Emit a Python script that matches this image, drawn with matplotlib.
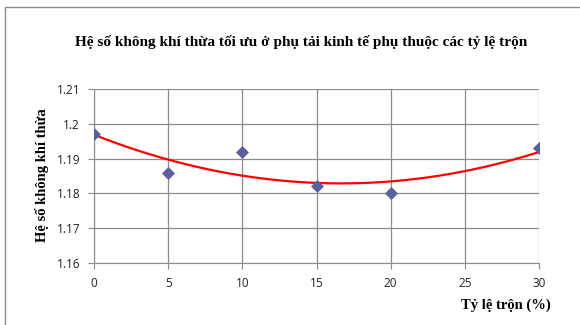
import numpy as np
import matplotlib
matplotlib.use("Agg")
import matplotlib.pyplot as plt
from matplotlib.patches import Rectangle

ratio = [0, 5, 10, 15, 20, 30]
excess_air = [1.197, 1.186, 1.192, 1.182, 1.180, 1.193]
x_ticks = [0, 5, 10, 15, 20, 25, 30]
y_ticks = [1.16, 1.17, 1.18, 1.19, 1.2, 1.21]
y_tick_labels = ["1.16", "1.17", "1.18", "1.19", "1.2", "1.21"]

W, H = 580, 325
fig = plt.figure(figsize=(W/100, H/100), dpi=100)
fig.patch.set_facecolor("white")
fig.patches.append(Rectangle((5/W, -0.1), 1.2, 1 - 7/H + 0.1, transform=fig.transFigure,
                             fill=False, edgecolor="#8c8c8c", linewidth=1.0))

left, right, top, bottom = 94, 539, 89, 263
ax = fig.add_axes([left/W, 1 - bottom/H, (right-left)/W, (bottom-top)/H])

coef = np.polyfit(ratio, excess_air, 2)
xs = np.linspace(0, 30, 200)
ax.plot(xs, np.polyval(coef, xs), color="#ff0000", linewidth=1.6, zorder=3)
ax.scatter(ratio, excess_air, marker="D", s=44, color="#5b5f9e", zorder=4, linewidths=0)

ax.set_xlim(0, 30)
ax.set_ylim(1.16, 1.21)
ax.set_xticks(x_ticks)
ax.set_yticks(y_ticks)
ax.set_yticklabels(y_tick_labels)
ax.grid(True, color="#8c8c8c", linewidth=0.9)
ax.set_axisbelow(True)
for s in ["top", "right"]:
    ax.spines[s].set_visible(False)
for s in ["left", "bottom"]:
    ax.spines[s].set_color("#8c8c8c")
ax.tick_params(direction="out", length=4, color="#8c8c8c", labelsize=8.5,
               labelcolor="#222222", pad=6)
for lab in ax.get_xticklabels() + ax.get_yticklabels():
    lab.set_family("Open Sans")

fig.text(301/W, 1 - 42/H, "Hệ số không khí thừa tối ưu ở phụ tải kinh tế phụ thuộc các tỷ lệ trộn",
         ha="center", va="center", family="Liberation Serif", fontweight="bold", fontsize=11)
fig.text(42/W, 1 - 175/H, "Hệ số không khí thừa", rotation=90, ha="center", va="center",
         family="Liberation Serif", fontweight="bold", fontsize=10.5)
fig.text(506/W, 1 - 305/H, "Tỷ lệ trộn (%)", ha="center", va="center",
         family="Liberation Serif", fontweight="bold", fontsize=10.5)

fig.savefig("out.png", dpi=100)
